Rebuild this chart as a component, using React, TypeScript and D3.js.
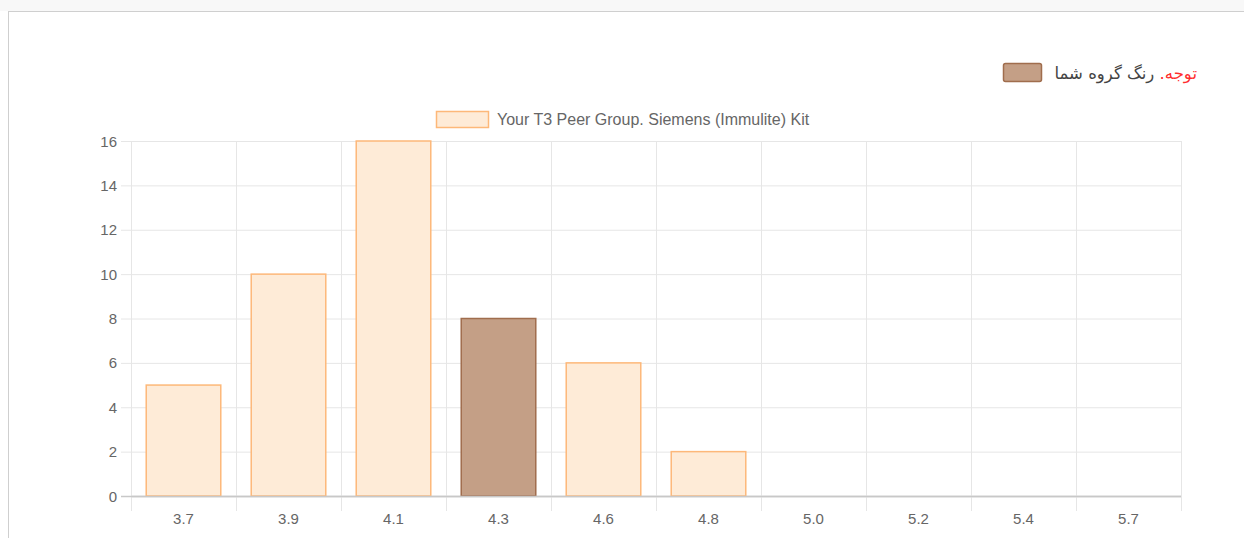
import React from "react";
import * as d3 from "d3";

const categories = ["3.7", "3.9", "4.1", "4.3", "4.6", "4.8", "5.0", "5.2", "5.4", "5.7"];
const counts = [5, 10, 16, 8, 6, 2, 0, 0, 0, 0];
const highlightIndex = 3;
const yTicks = [0, 2, 4, 6, 8, 10, 12, 14, 16];
const legendLabel = "Your T3 Peer Group. Siemens (Immulite) Kit";
const noteRed = "توجه.";
const noteText = " رنگ گروه شما";

const W = 1244;
const H = 538;
const left = 131;
const right = 1181;
const top = 141;
const bottom = 496;

const fillNormal = "#feebd7";
const strokeNormal = "#fdb879";
const fillHi = "#c49f86";
const strokeHi = "#a06d4d";
const textColor = "#666";
const gridColor = "#e6e6e6";
const font = "'Liberation Sans', Arial, Helvetica, sans-serif";

export default function App() {
  const x = d3.scaleBand<string>().domain(categories).range([left, right]);
  const y = d3.scaleLinear().domain([0, 16]).range([bottom, top]);
  const bw = x.bandwidth() * 0.71;

  return (
    <svg
      width={W}
      height={H}
      style={{ position: "absolute", left: 0, top: 0, background: "#fff" }}
    >
      <rect x={0} y={0} width={W} height={11} fill="#f8f8f8" />
      <line x1={8} x2={W} y1={11.5} y2={11.5} stroke="#cfcfcf" />
      <line x1={8.5} x2={8.5} y1={11.5} y2={H} stroke="#cfcfcf" />

      {/* grid */}
      {yTicks.map((t) => (
        <g key={"y" + t}>
          <line
            x1={left - 10}
            x2={right}
            y1={y(t) + 0.5}
            y2={y(t) + 0.5}
            stroke={t === 0 ? "#c8c8c8" : gridColor}
            strokeWidth={t === 0 ? 1.5 : 1}
          />
          <text
            x={117}
            y={y(t)}
            textAnchor="end"
            dominantBaseline="central"
            fontFamily={font}
            fontSize={15}
            fill={textColor}
          >
            {t}
          </text>
        </g>
      ))}
      {categories.map((c) => (
        <line
          key={"v" + c}
          x1={x(c)! + 0.5}
          x2={x(c)! + 0.5}
          y1={top}
          y2={bottom + 15}
          stroke={gridColor}
        />
      ))}
      <line x1={right + 0.5} x2={right + 0.5} y1={top} y2={bottom + 15} stroke={gridColor} />

      {/* bars */}
      {counts.map((v, i) => {
        const c = categories[i];
        const cx = x(c)! + x.bandwidth() / 2;
        const hi = i === highlightIndex;
        if (v === 0) return null;
        return (
          <rect
            key={"b" + c}
            x={cx - bw / 2}
            y={y(v)}
            width={bw}
            height={y(0) - y(v)}
            fill={hi ? fillHi : fillNormal}
            stroke={hi ? strokeHi : strokeNormal}
            strokeWidth={1.5}
          />
        );
      })}
      <line x1={left} x2={right} y1={bottom + 0.5} y2={bottom + 0.5} stroke="#c8c8c8" strokeWidth={1.5} />

      {/* x labels */}
      {categories.map((c) => (
        <text
          key={"xl" + c}
          x={x(c)! + x.bandwidth() / 2}
          y={518}
          textAnchor="middle"
          dominantBaseline="central"
          fontFamily={font}
          fontSize={15}
          fill={textColor}
        >
          {c}
        </text>
      ))}

      {/* legend */}
      <rect x={436.5} y={111.5} width={52} height={16} fill={fillNormal} stroke={strokeNormal} strokeWidth={1.5} />
      <text x={497} y={119} dominantBaseline="central" fontFamily={font} fontSize={16} fill={textColor}>
        {legendLabel}
      </text>

      {/* note legend */}
      <rect x={1003.5} y={63.5} width={38} height={18} rx={2} fill={fillHi} stroke={strokeHi} strokeWidth={1.5} />
      <text
        x={1197}
        y={73}
        textAnchor="start"
        direction="rtl"
        dominantBaseline="central"
        fontFamily="'DejaVu Sans', 'Noto Sans', sans-serif"
        fontSize={16.5}
      >
        <tspan fill="#ff2d2d">{noteRed}</tspan>
        <tspan fill="#444">{noteText}</tspan>
      </text>
    </svg>
  );
}
